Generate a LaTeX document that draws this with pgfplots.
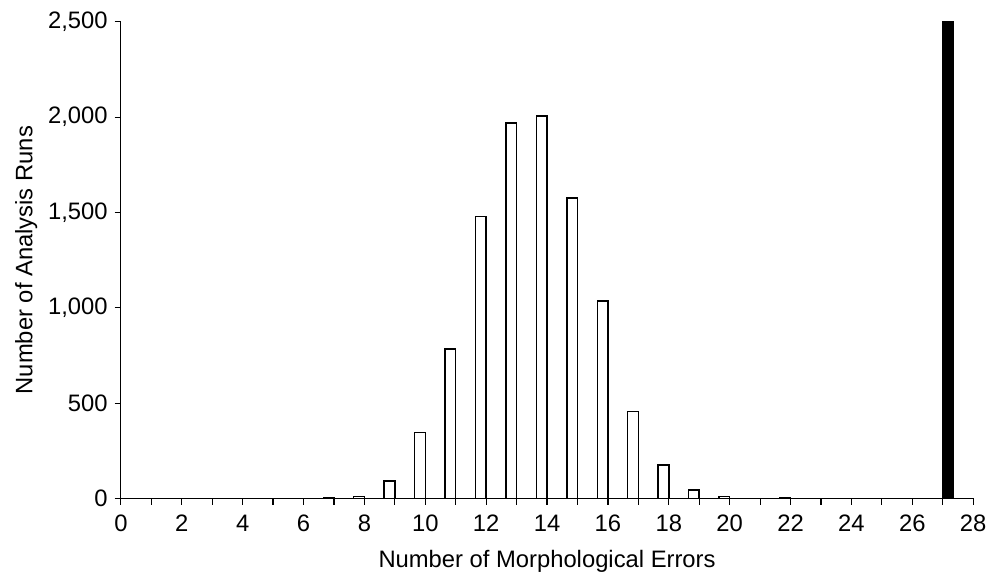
\documentclass[border=0pt]{standalone}
\usepackage{pgfplots}
\pgfplotsset{compat=1.18}
\usepackage{fontspec}
\setmainfont{Liberation Sans}
\begin{document}
\begin{tikzpicture}
\begin{axis}[
  scale only axis,
  width=430pt, height=240.5pt,
  xmin=0, xmax=28, ymin=0, ymax=2500,
  axis x line*=bottom, axis y line*=left,
  axis line style={-, line width=0.6pt},
  xtick={0,2,...,28},
  minor xtick={1,3,...,27},
  ytick={0,500,1000,1500,2000,2500},
  tick align=outside,
  major tick length=3.2pt, minor tick length=3.2pt,
  tick style={black, line width=0.6pt},
  every minor tick/.style={black, line width=0.6pt},
  /pgf/number format/assume math mode=true,
  /pgf/number format/1000 sep={,},
  scaled y ticks=false,
  font=\fontsize{12}{14}\selectfont,
  tick label style={font=\fontsize{12}{14}\selectfont},
  xticklabel style={yshift=-1.5pt},
  xlabel={Number of Morphological Errors},
  ylabel={Number of Analysis Runs},
  xlabel style={yshift=-2.5pt},
  ylabel style={yshift=-1.5pt},
  clip=false,
]
\addplot[ybar, bar width=0.35, bar shift=-0.175, fill=white, draw=black, line width=0.75pt]
  coordinates {
  (7,4) (8,11) (9,92) (10,345) (11,785) (12,1480) (13,1970) (14,2007)
  (15,1577) (16,1035) (17,457) (18,175) (19,45) (20,10) (22,4)
  };
\addplot[ybar, bar width=0.35, bar shift=0.175, fill=black, draw=black, line width=0.5pt]
  coordinates {(27,2500)};
\end{axis}
\path ([shift={(-61pt,-37.9pt)}]current axis.south west) rectangle ([shift={(7pt,11pt)}]current axis.north east);
\end{tikzpicture}
\end{document}
